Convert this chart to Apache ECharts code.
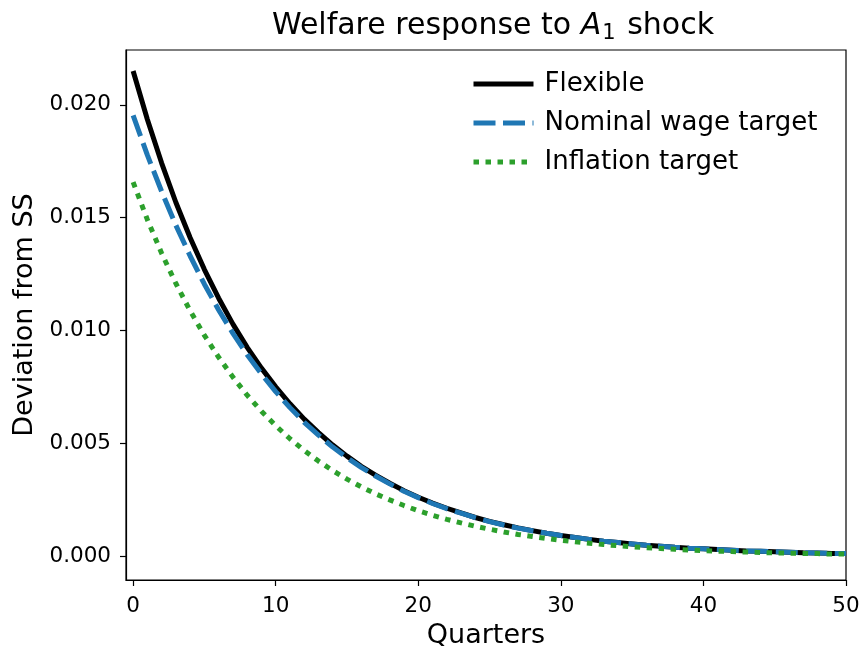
<!DOCTYPE html>
<html>
<head>
<meta charset="utf-8">
<script src="https://cdn.jsdelivr.net/npm/echarts@6/dist/echarts.min.js"></script>
<style>
  html, body { margin: 0; padding: 0; background: #fff; }
  #chart { width: 863px; height: 654px; }
</style>
</head>
<body>
<div id="chart"></div>
<script>
// Quarters after the shock
var quarters = [];
for (var q = 0; q <= 50; q++) quarters.push(q);

// Welfare deviation from steady state, per policy regime
var flexible = [
  0.02150, 0.01935, 0.01742, 0.01567, 0.01411, 0.01270, 0.01143, 0.01028, 0.00925, 0.00833,
  0.00750, 0.00675, 0.00607, 0.00547, 0.00492, 0.00443, 0.00398, 0.00359, 0.00323, 0.00290,
  0.00261, 0.00235, 0.00212, 0.00191, 0.00171, 0.00154, 0.00139, 0.00125, 0.00113, 0.00101,
  0.00091, 0.00082, 0.00074, 0.00066, 0.00060, 0.00054, 0.00048, 0.00044, 0.00039, 0.00035,
  0.00032, 0.00029, 0.00026, 0.00023, 0.00021, 0.00019, 0.00017, 0.00015, 0.00014, 0.00012,
  0.00011
];
var nominalWage = [
  0.01953, 0.01777, 0.01616, 0.01466, 0.01330, 0.01205, 0.01091, 0.00987, 0.00892, 0.00807,
  0.00729, 0.00658, 0.00593, 0.00536, 0.00483, 0.00436, 0.00393, 0.00355, 0.00320, 0.00287,
  0.00259, 0.00233, 0.00210, 0.00190, 0.00170, 0.00153, 0.00138, 0.00124, 0.00112, 0.00101,
  0.00091, 0.00082, 0.00074, 0.00066, 0.00060, 0.00054, 0.00048, 0.00044, 0.00039, 0.00035,
  0.00032, 0.00029, 0.00026, 0.00023, 0.00021, 0.00019, 0.00017, 0.00015, 0.00014, 0.00012,
  0.00011
];
var inflation = [
  0.01657, 0.01491, 0.01342, 0.01208, 0.01087, 0.00978, 0.00881, 0.00793, 0.00713, 0.00642,
  0.00578, 0.00520, 0.00468, 0.00421, 0.00379, 0.00341, 0.00307, 0.00276, 0.00249, 0.00224,
  0.00201, 0.00181, 0.00163, 0.00147, 0.00132, 0.00119, 0.00107, 0.00096, 0.00087, 0.00078,
  0.00070, 0.00063, 0.00057, 0.00051, 0.00046, 0.00041, 0.00037, 0.00034, 0.00030, 0.00027,
  0.00024, 0.00022, 0.00020, 0.00018, 0.00016, 0.00014, 0.00013, 0.00012, 0.00011, 0.00009,
  0.00009
];

// Tick positions shown on each axis
var xTicks = [0, 10, 20, 30, 40, 50];
var yTicks = [0, 0.005, 0.010, 0.015, 0.020];

function pairs(ys) {
  return quarters.map(function (x, i) { return [x, ys[i]]; });
}

var FONT = 'DejaVu Sans';
var chart = echarts.init(document.getElementById('chart'), null, { renderer: 'canvas' });

chart.setOption({
  backgroundColor: '#fff',
  animation: false,
  textStyle: { fontFamily: FONT, color: '#000' },
  title: {
    text: '{n|Welfare response to }{i|A}{s|1}{n| shock}',
    left: 488,
    textAlign: 'center',
    top: 4,
    textStyle: {
      fontWeight: 'normal',
      rich: {
        n: { fontFamily: FONT, fontSize: 30, fontWeight: 'normal', color: '#000' },
        i: { fontFamily: FONT, fontSize: 30, fontWeight: 'normal', fontStyle: 'italic', color: '#000' },
        s: { fontFamily: FONT, fontSize: 21, fontWeight: 'normal', color: '#000', padding: [14, 2, 0, 1] }
      }
    }
  },
  grid: {
    left: 126, right: 17, top: 50, bottom: 67,
    show: true, borderColor: '#000', borderWidth: 1.2, backgroundColor: 'transparent'
  },
  legend: {
    left: 466, top: 66,
    orient: 'vertical',
    itemWidth: 60, itemHeight: 14, itemGap: 13,
    itemStyle: { opacity: 0 },
    lineStyle: { width: 5 },
    textStyle: { fontFamily: FONT, fontSize: 26, color: '#000', padding: [0, 0, 0, 6] },
    data: ['Flexible', 'Nominal wage target', 'Inflation target']
  },
  xAxis: {
    type: 'value',
    min: -0.5, max: 50,
    name: 'Quarters',
    nameLocation: 'middle',
    nameGap: 42,
    nameTextStyle: { fontFamily: FONT, fontSize: 27, color: '#000' },
    axisLine: { show: true, onZero: false, lineStyle: { color: '#000', width: 1.2 } },
    axisTick: { show: true, inside: false, length: 6, customValues: xTicks, lineStyle: { color: '#000', width: 1.2 } },
    axisLabel: { customValues: xTicks, fontFamily: FONT, fontSize: 21.5, color: '#000', margin: 15 },
    splitLine: { show: false }
  },
  yAxis: {
    type: 'value',
    min: -0.00106, max: 0.02243,
    name: 'Deviation from SS',
    nameLocation: 'middle',
    nameGap: 86,
    nameTextStyle: { fontFamily: FONT, fontSize: 27, color: '#000' },
    axisLine: { show: true, onZero: false, lineStyle: { color: '#000', width: 1.2 } },
    axisTick: { show: true, inside: false, length: 6, customValues: yTicks, lineStyle: { color: '#000', width: 1.2 } },
    axisLabel: {
      customValues: yTicks, fontFamily: FONT, fontSize: 21.5, color: '#000', margin: 15,
      formatter: function (v) { return v.toFixed(3); }
    },
    splitLine: { show: false }
  },
  series: [
    {
      name: 'Flexible', type: 'line', data: pairs(flexible),
      showSymbol: false, symbol: 'none',
      lineStyle: { color: '#000000', width: 5, type: 'solid' },
      itemStyle: { color: '#000000' }, z: 2
    },
    {
      name: 'Nominal wage target', type: 'line', data: pairs(nominalWage),
      showSymbol: false, symbol: 'none',
      lineStyle: { color: '#1f77b4', width: 5, type: [22, 7.5] },
      itemStyle: { color: '#1f77b4' }, z: 3
    },
    {
      name: 'Inflation target', type: 'line', data: pairs(inflation),
      showSymbol: false, symbol: 'none',
      lineStyle: { color: '#2ca02c', width: 5, type: [5.5, 6.5] },
      itemStyle: { color: '#2ca02c' }, z: 4
    }
  ]
});
</script>
</body>
</html>
